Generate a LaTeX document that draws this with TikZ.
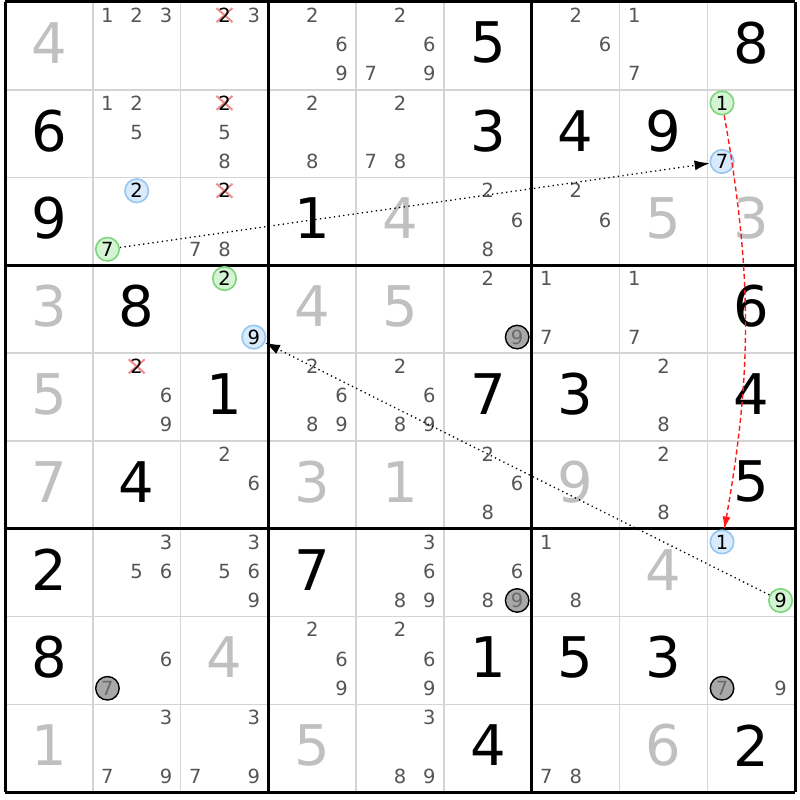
\documentclass[tikz,border=0pt]{standalone}
\usepackage{fontspec}
\setmainfont{DejaVu Sans}
\usetikzlibrary{arrows.meta}

\definecolor{candgray}{HTML}{555555}
\definecolor{solvedgray}{HTML}{C0C0C0}
\definecolor{thingray}{HTML}{D4D4D4}
\definecolor{ongreen}{HTML}{D4F4D4}
\definecolor{ongreenline}{HTML}{7CD67C}
\definecolor{offblue}{HTML}{D8EAFB}
\definecolor{offblueline}{HTML}{96C6F2}
\definecolor{elimfill}{HTML}{A8A8A8}
\definecolor{elimtext}{HTML}{6A6A6A}
\definecolor{crossred}{HTML}{F28C8C}
\definecolor{linkred}{HTML}{FF1A1A}

\newcommand{\cellsize}{87.8}
% centre of a cell, and of one candidate inside it
\newcommand{\cellat}[2]{%
  \pgfmathsetmacro\posx{5+\cellsize*(#2-0.5)}%
  \pgfmathsetmacro\posy{2+\cellsize*(#1-0.5)-3}}
\newcommand{\candat}[3]{%
  \pgfmathsetmacro\posx{5+\cellsize*(#2-1)+\cellsize*(2*mod(#3-1,3)+1)/6}%
  \pgfmathsetmacro\posy{2+\cellsize*(#1-1)+\cellsize*(2*floor((#3-1)/3)+1)/6-1.5}}

\begin{document}
\begin{tikzpicture}[x=1pt,y=-1pt]
	\tikzstyle{given}=[font=\fontsize{56}{60}\selectfont,inner sep=0pt]
	\tikzstyle{solved}=[given,text=solvedgray]
	\tikzstyle{cand}=[font=\fontsize{19.5}{20}\selectfont,text=candgray,inner sep=0pt]
	\tikzstyle{ring}=[circle,minimum size=23.5pt,inner sep=0pt,line width=1.6pt,font=\fontsize{19.5}{20}\selectfont]
	\tikzstyle{greenring}=[ring,fill=ongreen,draw=ongreenline]
	\tikzstyle{bluering}=[ring,fill=offblue,draw=offblueline]
	\tikzstyle{grayring}=[ring,fill=elimfill,draw=black,line width=1.4pt,text=elimtext]
	\tikzstyle{cross}=[crossred,line width=2pt]
	\tikzstyle{weaklink}=[line width=1.3pt,dash pattern=on 1.3pt off 3.4pt,-{Latex[length=15pt,width=10pt]}]
	\tikzstyle{stronglink}=[linkred,line width=1.4pt,dash pattern=on 5pt off 3pt,-{Latex[length=13pt,width=8pt]}]
	\fill[white] (0,0) rectangle (800,800);
	\useasboundingbox (0,0) rectangle (800,800);
	% grid
	\foreach \i in {1,2,4,5,7,8} {
		\draw[thingray,line width=1.5pt] (5+\i*\cellsize,2) -- (5+\i*\cellsize,792);
		\draw[thingray,line width=1.5pt] (5,2+\i*\cellsize) -- (795,2+\i*\cellsize);
	}
	\foreach \i in {0,3,6,9} {
		\draw[line width=3pt] (5+\i*\cellsize,2) -- (5+\i*\cellsize,792);
		\draw[line width=3pt] (5,2+\i*\cellsize) -- (795,2+\i*\cellsize);
	}
	% givens and solved cells
	\foreach \r/\c/\d in {1/6/5,1/9/8,2/1/6,2/6/3,2/7/4,2/8/9,3/1/9,3/4/1,4/2/8,4/9/6,5/3/1,5/6/7,5/7/3,5/9/4,6/2/4,6/9/5,7/1/2,7/4/7,8/1/8,8/6/1,8/7/5,8/8/3,9/6/4,9/9/2} {
		\cellat{\r}{\c}
		\node (v\r\c) [given] at (\posx,\posy) {\d};
	}
	\foreach \r/\c/\d in {1/1/4,3/5/4,3/8/5,3/9/3,4/1/3,4/4/4,4/5/5,5/1/5,6/1/7,6/4/3,6/5/1,6/7/9,7/8/4,8/3/4,9/1/1,9/4/5,9/8/6} {
		\cellat{\r}{\c}
		\node (s\r\c) [solved] at (\posx,\posy) {\d};
	}
	% candidates
	\foreach \r/\c/\ds in {1/2/{1,2,3},1/3/{3},1/4/{2,6,9},1/5/{2,6,7,9},1/7/{2,6},1/8/{1,7},
		2/2/{1,2,5},2/3/{5,8},2/4/{2,8},2/5/{2,7,8},
		3/3/{7,8},3/6/{2,6,8},3/7/{2,6},
		4/6/{2},4/7/{1,7},4/8/{1,7},
		5/2/{6,9},5/4/{2,6,8,9},5/5/{2,6,8,9},5/8/{2,8},
		6/3/{2,6},6/6/{2,6,8},6/8/{2,8},
		7/2/{3,5,6},7/3/{3,5,6,9},7/5/{3,6,8,9},7/6/{6,8},7/7/{1,8},
		8/2/{6},8/4/{2,6,9},8/5/{2,6,9},8/9/{9},
		9/2/{3,7,9},9/3/{3,7,9},9/5/{3,8,9},9/7/{7,8}} {
		\foreach \d in \ds {
			\candat{\r}{\c}{\d}
			\node (c\r\c\d) [cand] at (\posx,\posy) {\d};
		}
	}
	% eliminated 2s
	\foreach \r/\c in {1/3,2/3,3/3,5/2} {
		\candat{\r}{\c}{2}
		\coordinate (k\r\c) at (\posx,\posy);
		\draw[cross] (k\r\c) +(-8,-7) -- +(8,7) (k\r\c) +(-8,7) -- +(8,-7);
		\node (x\r\c) [cand,text=black] at (k\r\c) {2};
	}
	% chain
	\candat{2}{9}{1} \node (on291) [greenring] at (\posx,\posy) {1};
	\candat{2}{9}{7} \node (off297) [bluering] at (\posx,\posy) {7};
	\candat{3}{2}{2} \node (off322) [bluering] at (\posx,\posy) {2};
	\candat{3}{2}{7} \node (on327) [greenring] at (\posx,\posy) {7};
	\candat{4}{3}{2} \node (on432) [greenring] at (\posx,\posy) {2};
	\candat{4}{3}{9} \node (off439) [bluering] at (\posx,\posy) {9};
	\candat{7}{9}{1} \node (off791) [bluering] at (\posx,\posy) {1};
	\candat{7}{9}{9} \node (on799) [greenring] at (\posx,\posy) {9};
	\candat{4}{6}{9} \node (e469) [grayring] at (\posx,\posy) {9};
	\candat{7}{6}{9} \node (e769) [grayring] at (\posx,\posy) {9};
	\candat{8}{2}{7} \node (e827) [grayring] at (\posx,\posy) {7};
	\candat{8}{9}{7} \node (e897) [grayring] at (\posx,\posy) {7};
	\draw [weaklink] (on327) -- (off297);
	\draw [weaklink] (on799) -- (off439);
	\draw [stronglink] (on291) to [bend left=10] (off791);
\end{tikzpicture}
\end{document}
